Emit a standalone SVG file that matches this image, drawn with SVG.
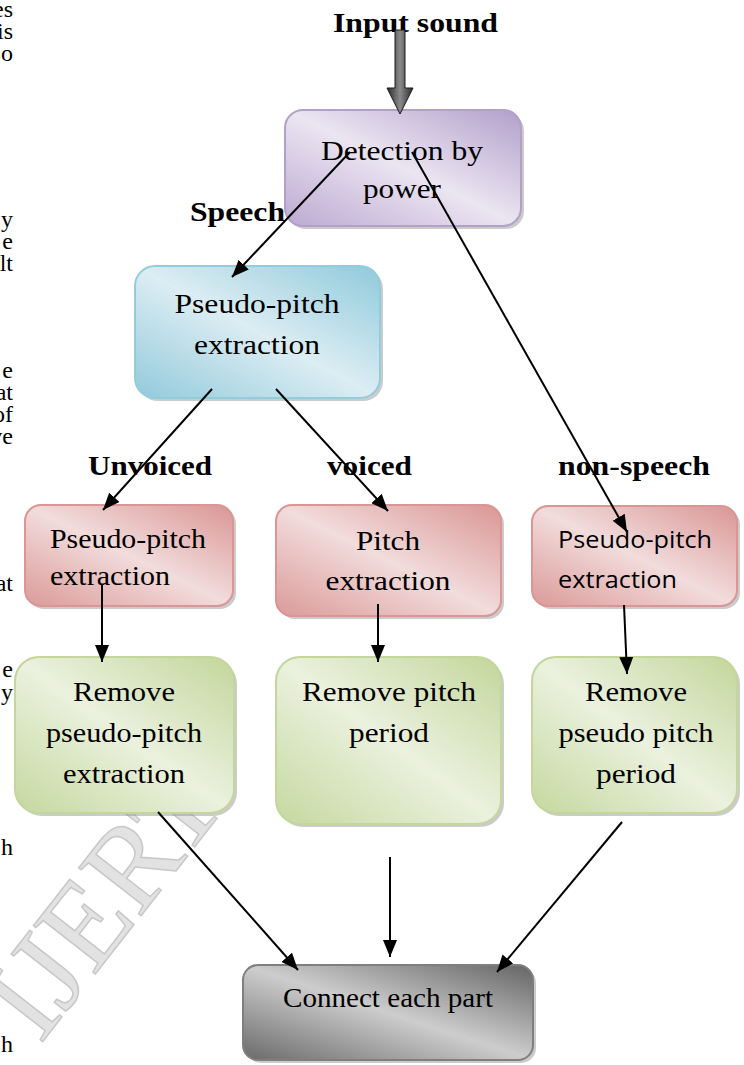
<svg xmlns="http://www.w3.org/2000/svg" width="744" height="1065" viewBox="0 0 744 1065">
<style>
.t{font-family:"Liberation Serif","Times New Roman",serif;font-size:28px;fill:#000}
.b{font-family:"Liberation Serif","Times New Roman",serif;font-size:28px;font-weight:bold;fill:#000}
.s{font-family:"Open Sans","Noto Sans",sans-serif;font-size:24px;fill:#000}
.frag{font-family:"Liberation Serif","Times New Roman",serif;font-size:24px;fill:#000;text-anchor:end}
.c{text-anchor:middle}
.conn{stroke:#000;stroke-width:2;fill:none;marker-end:url(#ah)}
.shadow{fill:#8c8c8c;opacity:.45}
.wm{font-family:"Liberation Serif","Times New Roman",serif;font-size:120px;fill:#e2e2e2;stroke:#c8c8c8;stroke-width:1.5}
</style>
<defs>
<marker id="ah" markerUnits="userSpaceOnUse" markerWidth="17" markerHeight="14" refX="17" refY="7" orient="auto">
<path d="M0,0 L17,7 L0,14 z" fill="#000"/>
</marker>
<linearGradient id="gPurple" x1="1" y1="0" x2="0" y2="1">
<stop offset="0" stop-color="#b29fcb"/><stop offset="0.5" stop-color="#ebe5f1"/><stop offset="1" stop-color="#bca9d2"/>
</linearGradient>
<linearGradient id="gBlue" x1="1" y1="0" x2="0" y2="1">
<stop offset="0" stop-color="#8fcadb"/><stop offset="0.5" stop-color="#dcedf3"/><stop offset="1" stop-color="#92cadb"/>
</linearGradient>
<linearGradient id="gRed" x1="1" y1="0" x2="0" y2="1">
<stop offset="0" stop-color="#d99694"/><stop offset="0.5" stop-color="#f2dcdc"/><stop offset="1" stop-color="#da9a98"/>
</linearGradient>
<linearGradient id="gGreen" x1="1" y1="0" x2="0" y2="1">
<stop offset="0" stop-color="#c3d69b"/><stop offset="0.5" stop-color="#ebf1de"/><stop offset="1" stop-color="#c5d89f"/>
</linearGradient>
<linearGradient id="gGray" x1="1" y1="0" x2="0" y2="1">
<stop offset="0" stop-color="#646464"/><stop offset="0.5" stop-color="#cdcdcd"/><stop offset="1" stop-color="#6a6a6a"/>
</linearGradient>
<linearGradient id="gArrow" x1="0" y1="0" x2="1" y2="0">
<stop offset="0" stop-color="#2a2a2a"/><stop offset="0.5" stop-color="#8a8a8a"/><stop offset="1" stop-color="#2a2a2a"/>
</linearGradient>
</defs>

<g id="watermark">
<text class="wm" transform="translate(40,1045) rotate(-52)">IJERT</text>
</g>

<g id="page-text">
<text class="frag" x="13" y="17">es</text>
<text class="frag" x="13" y="39">is</text>
<text class="frag" x="13" y="61">o</text>
<text class="frag" x="13" y="227">y</text>
<text class="frag" x="13" y="249">e</text>
<text class="frag" x="13" y="271">lt</text>
<text class="frag" x="13" y="378">e</text>
<text class="frag" x="13" y="400">at</text>
<text class="frag" x="13" y="422">of</text>
<text class="frag" x="13" y="444">ve</text>
<text class="frag" x="13" y="591">at</text>
<text class="frag" x="13" y="677">e</text>
<text class="frag" x="13" y="700">y</text>
<text class="frag" x="13" y="855">h</text>
<text class="frag" x="13" y="1052">h</text>
</g>

<g id="labels">
<text class="b" x="333" y="32" textLength="165" lengthAdjust="spacingAndGlyphs">Input sound</text>
<text class="b" x="190" y="221" textLength="95" lengthAdjust="spacingAndGlyphs">Speech</text>
<text class="b" x="88" y="475" textLength="124" lengthAdjust="spacingAndGlyphs">Unvoiced</text>
<text class="b" x="327" y="475" textLength="85" lengthAdjust="spacingAndGlyphs">voiced</text>
<text class="b" x="558" y="475" textLength="152" lengthAdjust="spacingAndGlyphs">non-speech</text>
</g>

<g id="node-detection">
<rect class="shadow" x="288" y="113" width="236" height="116" rx="18"/>
<rect x="285" y="110" width="236" height="116" rx="18" fill="url(#gPurple)" stroke="#b2a1c7" stroke-width="2"/>
<text class="t c" x="402" y="160" textLength="162" lengthAdjust="spacingAndGlyphs">Detection by</text>
<text class="t c" x="402" y="198" textLength="78" lengthAdjust="spacingAndGlyphs">power</text>
</g>

<g id="node-pseudo-main">
<rect class="shadow" x="138" y="269" width="245" height="132" rx="20"/>
<rect x="135" y="266" width="245" height="132" rx="20" fill="url(#gBlue)" stroke="#93cddd" stroke-width="2"/>
<text class="t c" x="257" y="313" textLength="165" lengthAdjust="spacingAndGlyphs">Pseudo-pitch</text>
<text class="t c" x="257" y="354" textLength="126" lengthAdjust="spacingAndGlyphs">extraction</text>
</g>

<g id="node-unvoiced">
<rect class="shadow" x="28" y="508" width="208" height="101" rx="16"/>
<rect x="25" y="505" width="208" height="101" rx="16" fill="url(#gRed)" stroke="#d99694" stroke-width="2"/>
<text class="t" x="50" y="548" textLength="156" lengthAdjust="spacingAndGlyphs">Pseudo-pitch</text>
<text class="t" x="50" y="585" textLength="120" lengthAdjust="spacingAndGlyphs">extraction</text>
</g>

<g id="node-voiced">
<rect class="shadow" x="279" y="508" width="225" height="111" rx="16"/>
<rect x="276" y="505" width="225" height="111" rx="16" fill="url(#gRed)" stroke="#d99694" stroke-width="2"/>
<text class="t c" x="388" y="550" textLength="64" lengthAdjust="spacingAndGlyphs">Pitch</text>
<text class="t c" x="388" y="590" textLength="125" lengthAdjust="spacingAndGlyphs">extraction</text>
</g>

<g id="node-nonspeech">
<rect class="shadow" x="535" y="509" width="205" height="100" rx="16"/>
<rect x="532" y="506" width="205" height="100" rx="16" fill="url(#gRed)" stroke="#d99694" stroke-width="2"/>
<text class="s" x="558" y="548" textLength="154" lengthAdjust="spacingAndGlyphs">Pseudo-pitch</text>
<text class="s" x="558" y="588" textLength="119" lengthAdjust="spacingAndGlyphs">extraction</text>
</g>

<g id="node-remove-unvoiced">
<rect class="shadow" x="18" y="660" width="219" height="156" rx="24"/>
<rect x="15" y="657" width="219" height="156" rx="24" fill="url(#gGreen)" stroke="#c3d69b" stroke-width="2"/>
<text class="t c" x="124" y="701" textLength="102" lengthAdjust="spacingAndGlyphs">Remove</text>
<text class="t c" x="124" y="742" textLength="156" lengthAdjust="spacingAndGlyphs">pseudo-pitch</text>
<text class="t c" x="124" y="783" textLength="122" lengthAdjust="spacingAndGlyphs">extraction</text>
</g>

<g id="node-remove-voiced">
<rect class="shadow" x="279" y="660" width="225" height="167" rx="24"/>
<rect x="276" y="657" width="225" height="167" rx="24" fill="url(#gGreen)" stroke="#c3d69b" stroke-width="2"/>
<text class="t c" x="389" y="701" textLength="174" lengthAdjust="spacingAndGlyphs">Remove pitch</text>
<text class="t c" x="389" y="742" textLength="80" lengthAdjust="spacingAndGlyphs">period</text>
</g>

<g id="node-remove-nonspeech">
<rect class="shadow" x="535" y="660" width="205" height="156" rx="24"/>
<rect x="532" y="657" width="205" height="156" rx="24" fill="url(#gGreen)" stroke="#c3d69b" stroke-width="2"/>
<text class="t c" x="636" y="701" textLength="102" lengthAdjust="spacingAndGlyphs">Remove</text>
<text class="t c" x="636" y="742" textLength="155" lengthAdjust="spacingAndGlyphs">pseudo pitch</text>
<text class="t c" x="636" y="783" textLength="80" lengthAdjust="spacingAndGlyphs">period</text>
</g>

<g id="node-connect">
<rect class="shadow" x="246" y="968" width="290" height="95" rx="15"/>
<rect x="243" y="965" width="290" height="95" rx="15" fill="url(#gGray)" stroke="#7f7f7f" stroke-width="2"/>
<text class="t c" x="388" y="1007" textLength="210" lengthAdjust="spacingAndGlyphs">Connect each part</text>
</g>

<g id="connectors">
<path d="M395,30 L405,30 L405,88 L413,88 L400,114 L387,88 L395,88 Z" fill="url(#gArrow)" stroke="#1a1a1a" stroke-width="1"/>
<line class="conn" x1="350" y1="152" x2="232" y2="277"/>
<line class="conn" x1="412" y1="152" x2="627" y2="532"/>
<line class="conn" x1="212" y1="389" x2="103" y2="510"/>
<line class="conn" x1="276" y1="389" x2="388" y2="511"/>
<line class="conn" x1="102" y1="585" x2="102" y2="662"/>
<line class="conn" x1="378" y1="604" x2="378" y2="662"/>
<line class="conn" x1="624" y1="605" x2="627" y2="674"/>
<line class="conn" x1="158" y1="812" x2="298" y2="970"/>
<line class="conn" x1="390" y1="857" x2="390" y2="957"/>
<line class="conn" x1="622" y1="822" x2="497" y2="972"/>
</g>
</svg>
